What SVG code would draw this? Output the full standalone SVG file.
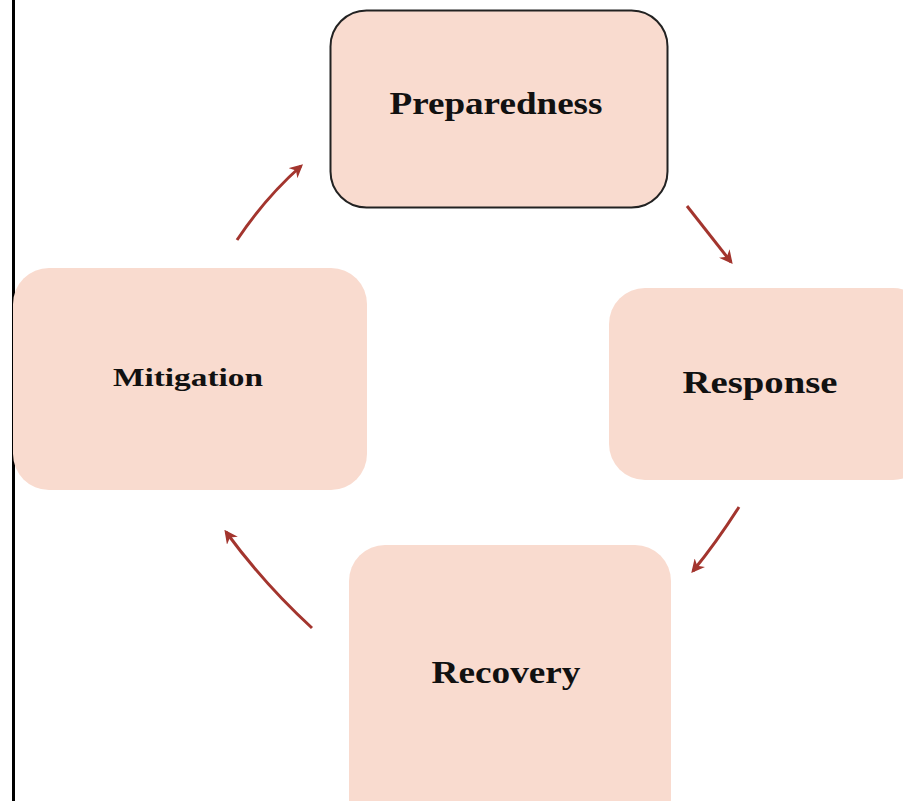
<svg xmlns="http://www.w3.org/2000/svg" width="903" height="801" viewBox="0 0 903 801">
<defs>
<style>
.box{fill:#F9DBCF}
.lbl{font-family:"Liberation Serif","DejaVu Serif",serif;font-weight:bold;fill:#111;text-anchor:middle}
.arr{fill:none;stroke:#A3352E;stroke-width:3;marker-end:url(#ah)}
</style>
<marker id="ah" viewBox="0 0 10 10" refX="8" refY="5" markerWidth="4.5" markerHeight="4.5" orient="auto" markerUnits="strokeWidth">
<path d="M0,0 L10,5 L0,10 L3,5 Z" fill="#A3352E"/>
</marker>
</defs>
<rect width="903" height="801" fill="#fff"/>
<line x1="13.5" y1="0" x2="13.5" y2="801" stroke="#000" stroke-width="3"/>
<g id="connectors">
<path class="arr" d="M237,240 Q265,198 301,166"/>
<path class="arr" d="M687,206 Q712,238 731,262"/>
<path class="arr" d="M739,507 Q716,543 693,571"/>
<path class="arr" d="M312,628 Q265,585 226,532"/>
</g>
<g id="preparedness">
<rect class="box" x="330.5" y="10.5" width="337" height="197" rx="36" stroke="#222" stroke-width="2"/>
<text class="lbl" x="496" y="114" font-size="31" textLength="213" lengthAdjust="spacingAndGlyphs">Preparedness</text>
</g>
<g id="response">
<rect class="box" x="609" y="288" width="320" height="192" rx="36"/>
<text class="lbl" x="760" y="393" font-size="31" textLength="155" lengthAdjust="spacingAndGlyphs">Response</text>
</g>
<g id="recovery">
<rect class="box" x="349" y="545" width="322" height="290" rx="36"/>
<text class="lbl" x="506" y="683" font-size="31" textLength="149" lengthAdjust="spacingAndGlyphs">Recovery</text>
</g>
<g id="mitigation">
<rect class="box" x="13" y="268" width="354" height="222" rx="36"/>
<text class="lbl" x="188" y="386" font-size="25" textLength="150" lengthAdjust="spacingAndGlyphs">Mitigation</text>
</g>
</svg>
